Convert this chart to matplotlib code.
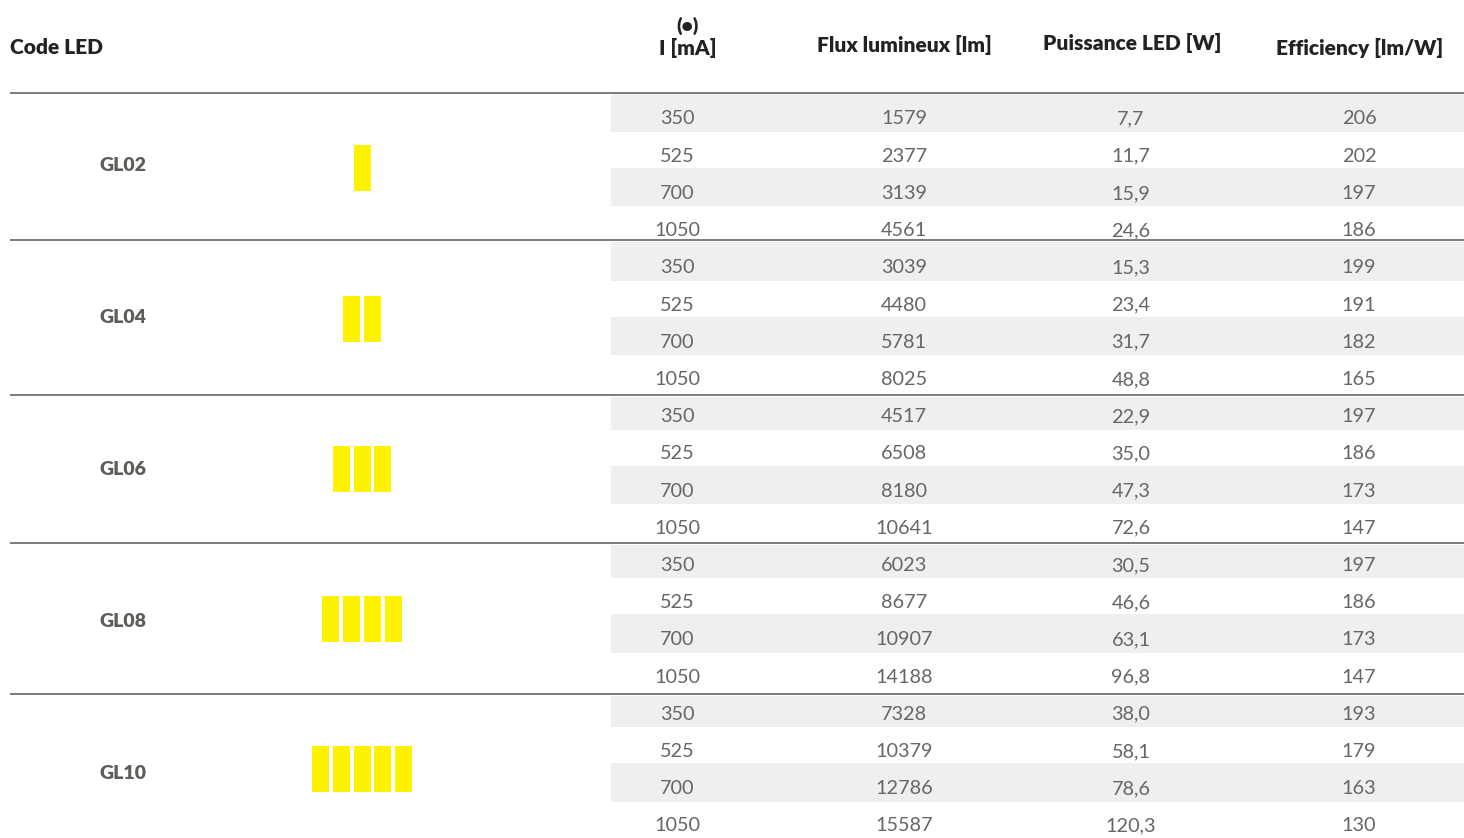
import matplotlib
matplotlib.use("Agg")
import matplotlib.pyplot as plt
from matplotlib.patches import Rectangle

plt.rcParams['font.family'] = ['Lato', 'DejaVu Sans']

codes = ["GL02", "GL04", "GL06", "GL08", "GL10"]
led_counts = [1, 2, 3, 4, 5]
currents = ["350", "525", "700", "1050"]
flux = [[1579, 2377, 3139, 4561],
        [3039, 4480, 5781, 8025],
        [4517, 6508, 8180, 10641],
        [6023, 8677, 10907, 14188],
        [7328, 10379, 12786, 15587]]
power = [["7,7", "11,7", "15,9", "24,6"],
         ["15,3", "23,4", "31,7", "48,8"],
         ["22,9", "35,0", "47,3", "72,6"],
         ["30,5", "46,6", "63,1", "96,8"],
         ["38,0", "58,1", "78,6", "120,3"]]
efficiency = [[206, 202, 197, 186],
              [199, 191, 182, 165],
              [197, 186, 173, 147],
              [197, 186, 173, 147],
              [193, 179, 163, 130]]
headers = ["Code LED", "(•)", "I [mA]", "Flux lumineux [lm]", "Puissance LED [W]", "Efficiency [lm/W]"]

# ---- layout (pixels) ----
W, H = 1464, 838
fig = plt.figure(figsize=(W / 100, H / 100), dpi=100)
ax = fig.add_axes([0, 0, 1, 1])
ax.set_xlim(0, W)
ax.set_ylim(H, 0)
ax.axis('off')

group_lines = [93, 240.5, 395, 543, 694]
base0, pitch_row = 124.5, 37.2
col_x = [677, 904, 1131, 1359]
hdr_color = "#222222"
num_color = "#666666"
lbl_color = "#5e5e58"
line_color = "#7c7c7c"
band_color = "#efefef"
led_color = "#fff200"
fs_num = 14.3
fs_hdr = 15
fs_lbl = 14
hdr_weight = 'heavy'

# headers
hdr_pos = [(10, 54.3, 'left'), (688, 31.5, 'center'), (688, 55.5, 'center'),
           (904.5, 52, 'center'), (1132, 50, 'center'), (1360, 55, 'center')]
for txt, (x, y, ha) in zip(headers, hdr_pos):
    fsz = 14 if txt == "(•)" else fs_hdr
    ax.text(x, y, txt, ha=ha, va='baseline', fontsize=fsz, fontweight=hdr_weight, color=hdr_color)

for g, code in enumerate(codes):
    gl = group_lines[g]
    ax.plot([10, W], [gl, gl], color=line_color, lw=1.4, solid_capstyle='butt', zorder=3)
    for r in range(4):
        i = g * 4 + r
        b = base0 + i * pitch_row
        if r % 2 == 0:
            y_top = max(b - 31, gl + 1.5)
            ax.add_patch(Rectangle((611, y_top), W - 611, b + 7.5 - y_top,
                                   facecolor=band_color, edgecolor='none', zorder=0))
        vals = [currents[r], str(flux[g][r]), power[g][r], str(efficiency[g][r])]
        for x, v in zip(col_x, vals):
            ax.text(x, b, v, ha='center', va='baseline', fontsize=fs_num, color=num_color)
    # group label
    ax.text(123, 171 + 152 * g, code, ha='center', va='baseline', fontsize=fs_lbl,
            fontweight=hdr_weight, color=lbl_color)
    # LED icon
    n = led_counts[g]
    pitch, w, h = 20.7, 17, 46
    ic = 168.5 + 150.2 * g
    x_start = 362 - (n * pitch - (pitch - w)) / 2
    for k in range(n):
        ax.add_patch(Rectangle((x_start + k * pitch, ic - h / 2), w, h,
                               facecolor=led_color, edgecolor='none'))

fig.savefig("out.png", dpi=100)
